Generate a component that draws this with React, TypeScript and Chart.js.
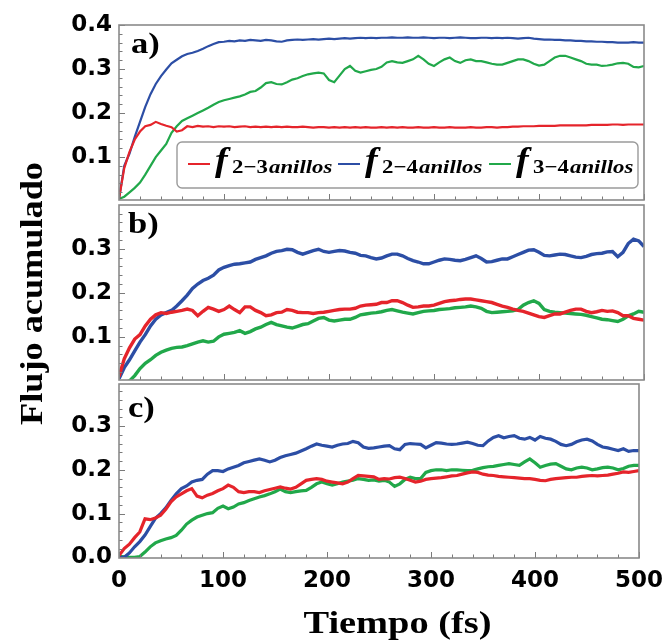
import React, { useEffect, useRef } from "react";
import { Chart, registerables } from "chart.js";

Chart.register(...registerables);

// ---------- data ----------
const timeFs = [
  0, 5, 10, 15, 20, 25, 30, 35, 40, 45, 50, 55, 60, 65, 70, 75, 80, 85, 90, 95, 100,
  105, 110, 115, 120, 125, 130, 135, 140, 145, 150,
  155, 160, 165, 170, 175, 180, 185, 190, 195, 200,
  205, 210, 215, 220, 225, 230, 235, 240, 245, 250,
  255, 260, 265, 270, 275, 280, 285, 290, 295, 300,
  305, 310, 315, 320, 325, 330, 335, 340, 345, 350,
  355, 360, 365, 370, 375, 380, 385, 390, 395, 400,
  405, 410, 415, 420, 425, 430, 435, 440, 445, 450,
  455, 460, 465, 470, 475, 480, 485, 490, 495, 500,
];

// panel a
const a23 = [
  0.005, 0.075, 0.112, 0.14, 0.158, 0.17, 0.173, 0.18, 0.175, 0.171, 0.168, 0.158, 0.161, 0.17, 0.168, 0.171, 0.169, 0.17, 0.168, 0.17, 0.169,
  0.17, 0.168, 0.169, 0.17, 0.168, 0.169, 0.168, 0.169, 0.168, 0.169,
  0.168, 0.169, 0.168, 0.168, 0.169, 0.168, 0.167, 0.168, 0.168, 0.167,
  0.168, 0.167, 0.168, 0.167, 0.168, 0.167, 0.168, 0.167, 0.167, 0.168,
  0.167, 0.168, 0.167, 0.168, 0.167, 0.167, 0.168, 0.167, 0.167, 0.168,
  0.167, 0.167, 0.168, 0.167, 0.167, 0.167, 0.168, 0.167, 0.167, 0.168,
  0.168, 0.167, 0.168, 0.168, 0.169, 0.169, 0.17, 0.17, 0.17, 0.171,
  0.171, 0.171, 0.171, 0.172, 0.172, 0.172, 0.172, 0.172, 0.172, 0.173,
  0.173, 0.173, 0.173, 0.174, 0.174, 0.173, 0.174, 0.174, 0.174, 0.174,
];
const a24 = [
  0.005, 0.08, 0.108, 0.146, 0.18, 0.214, 0.243, 0.266, 0.284, 0.299, 0.313, 0.321, 0.329, 0.334, 0.337, 0.341, 0.346, 0.352, 0.357, 0.361, 0.362,
  0.364, 0.363, 0.365, 0.364, 0.366, 0.365, 0.364, 0.366, 0.365, 0.363,
  0.362, 0.365, 0.366, 0.367, 0.366, 0.367, 0.368, 0.367, 0.368, 0.369,
  0.368, 0.369, 0.37, 0.369, 0.37, 0.371, 0.37, 0.371, 0.37, 0.371,
  0.371, 0.372, 0.371, 0.371, 0.372, 0.371, 0.371, 0.372, 0.371, 0.37,
  0.371, 0.371, 0.37, 0.371, 0.372, 0.371, 0.37, 0.37, 0.371, 0.371,
  0.37, 0.371, 0.37, 0.371, 0.37, 0.369, 0.37, 0.371, 0.369, 0.368,
  0.367, 0.367, 0.366, 0.366, 0.365, 0.365, 0.364, 0.364, 0.363, 0.363,
  0.362, 0.362, 0.361, 0.361, 0.36, 0.36, 0.36, 0.361, 0.36, 0.36,
];
const a34 = [
  0.005, 0.01, 0.02, 0.03, 0.042, 0.06, 0.08, 0.1, 0.115, 0.13, 0.155, 0.17, 0.182, 0.188, 0.194, 0.2, 0.206, 0.212, 0.219, 0.225, 0.229,
  0.232, 0.235, 0.238, 0.242, 0.248, 0.25, 0.258, 0.268, 0.27, 0.266,
  0.265, 0.27, 0.276, 0.279, 0.284, 0.288, 0.29, 0.292, 0.29, 0.275,
  0.27, 0.285, 0.3, 0.307, 0.296, 0.292, 0.295, 0.298, 0.3, 0.305,
  0.315, 0.318, 0.315, 0.314, 0.318, 0.322, 0.33, 0.322, 0.312, 0.307,
  0.315, 0.322, 0.326, 0.318, 0.314, 0.32, 0.322, 0.318, 0.318, 0.315,
  0.312, 0.31, 0.31, 0.314, 0.318, 0.322, 0.322, 0.318, 0.312, 0.308,
  0.31, 0.318, 0.326, 0.33, 0.33, 0.326, 0.322, 0.318, 0.312, 0.31,
  0.31, 0.307, 0.308, 0.31, 0.313, 0.314, 0.312, 0.305, 0.304, 0.307,
];

// panel b
const b23 = [
  0.01, 0.05, 0.075, 0.095, 0.105, 0.125, 0.14, 0.15, 0.155, 0.153, 0.156, 0.158, 0.16, 0.163, 0.16, 0.148, 0.158, 0.167, 0.163, 0.158, 0.162,
  0.17, 0.162, 0.155, 0.168, 0.168, 0.16, 0.155, 0.148, 0.15, 0.155,
  0.156, 0.162, 0.16, 0.156, 0.155, 0.155, 0.153, 0.155, 0.156, 0.158,
  0.16, 0.162, 0.163, 0.163, 0.165, 0.17, 0.172, 0.173, 0.174, 0.178,
  0.178, 0.182, 0.182, 0.178, 0.172, 0.167, 0.168, 0.17, 0.17, 0.172,
  0.176, 0.18, 0.182, 0.183, 0.185, 0.186, 0.186, 0.184, 0.182, 0.18,
  0.178, 0.174, 0.17, 0.167, 0.163, 0.16, 0.158, 0.154, 0.15, 0.146,
  0.144, 0.148, 0.152, 0.152, 0.156, 0.16, 0.163, 0.163, 0.158, 0.155,
  0.157, 0.16, 0.158, 0.159, 0.155, 0.148, 0.148, 0.142, 0.14, 0.138,
];
const b24 = [
  0.005, 0.03, 0.048, 0.068, 0.088, 0.105, 0.125, 0.14, 0.15, 0.155, 0.16, 0.17, 0.182, 0.195, 0.21, 0.22, 0.228, 0.233, 0.24, 0.252, 0.258,
  0.262, 0.265, 0.266, 0.268, 0.27, 0.276, 0.28, 0.284, 0.29, 0.294,
  0.296, 0.299, 0.298, 0.292, 0.288, 0.292, 0.296, 0.299, 0.294, 0.292,
  0.294, 0.296, 0.295, 0.292, 0.29, 0.285, 0.284, 0.28, 0.277, 0.279,
  0.284, 0.288, 0.288, 0.284, 0.278, 0.273, 0.27, 0.266, 0.266, 0.27,
  0.274, 0.277, 0.276, 0.274, 0.273, 0.276, 0.28, 0.284, 0.278, 0.27,
  0.271, 0.274, 0.277, 0.277, 0.282, 0.287, 0.292, 0.297, 0.298, 0.292,
  0.285, 0.284, 0.286, 0.288, 0.287, 0.284, 0.281, 0.28, 0.283, 0.287,
  0.289, 0.29, 0.293, 0.294, 0.282, 0.292, 0.312, 0.322, 0.318, 0.305,
];
const b34 = [
  -0.01, -0.005, 0.0, 0.012, 0.028, 0.04, 0.048, 0.058, 0.065, 0.07, 0.074, 0.076, 0.077, 0.08, 0.084, 0.088, 0.091, 0.088, 0.09, 0.1, 0.106,
  0.108, 0.11, 0.114, 0.108, 0.112, 0.118, 0.122, 0.128, 0.133, 0.128,
  0.125, 0.122, 0.12, 0.124, 0.128, 0.13, 0.136, 0.142, 0.144, 0.138,
  0.136, 0.138, 0.14, 0.14, 0.144, 0.15, 0.152, 0.154, 0.155, 0.157,
  0.16, 0.162, 0.159, 0.156, 0.154, 0.152, 0.155, 0.158, 0.159, 0.16,
  0.162, 0.163, 0.164, 0.166, 0.167, 0.168, 0.17, 0.168, 0.165, 0.158,
  0.155, 0.156, 0.157, 0.158, 0.159, 0.162, 0.172, 0.178, 0.182, 0.176,
  0.162, 0.158, 0.156, 0.155, 0.154, 0.153, 0.152, 0.151, 0.149, 0.146,
  0.143, 0.14, 0.139, 0.137, 0.135, 0.14, 0.148, 0.152, 0.158, 0.156,
];

// panel c
const c23 = [
  0.004, 0.02, 0.03, 0.045, 0.058, 0.088, 0.086, 0.09, 0.096, 0.11, 0.127, 0.138, 0.145, 0.152, 0.157, 0.14, 0.136, 0.142, 0.146, 0.152, 0.157,
  0.165, 0.16, 0.15, 0.148, 0.15, 0.15, 0.148, 0.152, 0.155, 0.158,
  0.161, 0.158, 0.156, 0.16, 0.168, 0.176, 0.178, 0.18, 0.178, 0.174,
  0.172, 0.17, 0.168, 0.172, 0.18, 0.187, 0.186, 0.185, 0.184, 0.178,
  0.18, 0.179, 0.182, 0.183, 0.18, 0.176, 0.172, 0.174, 0.178, 0.18,
  0.181, 0.182, 0.184, 0.186, 0.187, 0.19, 0.193, 0.195, 0.194, 0.19,
  0.188, 0.187, 0.185, 0.184, 0.183, 0.182, 0.181, 0.18, 0.18, 0.178,
  0.176, 0.175, 0.178, 0.18, 0.181, 0.182, 0.183, 0.183, 0.185, 0.186,
  0.187, 0.186, 0.187, 0.188, 0.19, 0.192, 0.195, 0.194, 0.196, 0.198,
];
const c24 = [
  0.0, 0.0, 0.01, 0.024, 0.036, 0.051, 0.07, 0.089, 0.1, 0.113, 0.13, 0.145, 0.157, 0.163, 0.172, 0.176, 0.178, 0.19, 0.198, 0.198, 0.196,
  0.202, 0.206, 0.21, 0.216, 0.219, 0.222, 0.225, 0.222, 0.218, 0.222,
  0.228, 0.232, 0.235, 0.238, 0.243, 0.248, 0.254, 0.259, 0.256, 0.254,
  0.252, 0.256, 0.259, 0.26, 0.265, 0.262, 0.252, 0.249, 0.25, 0.252,
  0.254, 0.255, 0.248, 0.246, 0.258, 0.26, 0.259, 0.258, 0.25, 0.256,
  0.262, 0.261, 0.259, 0.258, 0.259, 0.261, 0.263, 0.26, 0.256, 0.255,
  0.266, 0.274, 0.278, 0.273, 0.276, 0.278, 0.272, 0.27, 0.274, 0.268,
  0.276, 0.272, 0.27, 0.265, 0.258, 0.255, 0.258, 0.264, 0.268, 0.27,
  0.266, 0.258, 0.252, 0.25, 0.247, 0.244, 0.248, 0.242, 0.244, 0.244,
];
const c34 = [
  0.002, 0.001, 0.0, 0.0, 0.002, 0.012, 0.024, 0.033, 0.038, 0.042, 0.045, 0.05, 0.062, 0.076, 0.085, 0.092, 0.096, 0.1, 0.102, 0.112, 0.117,
  0.111, 0.115, 0.122, 0.125, 0.13, 0.134, 0.138, 0.141, 0.145, 0.15,
  0.156, 0.15, 0.148, 0.15, 0.152, 0.153, 0.16, 0.168, 0.172, 0.168,
  0.165, 0.168, 0.172, 0.174, 0.176, 0.18, 0.178, 0.176, 0.177, 0.174,
  0.176, 0.172, 0.162, 0.168, 0.178, 0.183, 0.18, 0.18, 0.194, 0.198,
  0.2, 0.2, 0.198, 0.2, 0.2, 0.199, 0.198, 0.199, 0.202, 0.205,
  0.207, 0.208, 0.21, 0.212, 0.214, 0.212, 0.21, 0.218, 0.225, 0.216,
  0.206, 0.21, 0.213, 0.214, 0.208, 0.202, 0.2, 0.204, 0.206, 0.204,
  0.2, 0.202, 0.205, 0.206, 0.204, 0.2, 0.203, 0.208, 0.21, 0.21,
];

const seriesPairs = ["2\u22123", "2\u22124", "3\u22124"];
const seriesSuffix = "anillos";
const seriesColors = ["#e5242b", "#2c4ea5", "#21a84a"];

const xTicks = [0, 100, 200, 300, 400, 500];
const yTicksA = [0.1, 0.2, 0.3, 0.4];
const yTicksB = [0.1, 0.2, 0.3];
const yTicksC = [0.0, 0.1, 0.2, 0.3];
const panelLetters = ["a)", "b)", "c)"];
const xTitle = "Tiempo (fs)";
const yTitle = "Flujo acumulado";

// ---------- layout ----------
const W = 672;
const H = 642;
const AREA_LEFT = 119;
const AREA_RIGHT = 644;

type PanelCfg = {
  series: number[][];
  yMin: number;
  yMax: number;
  yTicks: number[];
  top: number;
  bottom: number;
  letter: string;
  letterX: number;
  letterY: number;
  showX: boolean;
  showLegend: boolean;
  showYTitle: boolean;
  lineWidth: number;
};

const panels: PanelCfg[] = [
  { series: [a23, a24, a34], yMin: 0.0025, yMax: 0.4, yTicks: yTicksA, top: 25, bottom: 200, letter: panelLetters[0], letterX: 131, letterY: 53, showX: false, showLegend: true, showYTitle: true, lineWidth: 2.2 },
  { series: [b23, b24, b34], yMin: 0.002, yMax: 0.3995, yTicks: yTicksB, top: 205, bottom: 380, letter: panelLetters[1], letterX: 128, letterY: 233, showX: false, showLegend: false, showYTitle: false, lineWidth: 3.4 },
  { series: [c23, c24, c34], yMin: -0.0015, yMax: 0.396, yTicks: yTicksC, top: 384, bottom: 558, letter: panelLetters[2], letterX: 128, letterY: 417, showX: true, showLegend: false, showYTitle: false, lineWidth: 3.2 },
];

const decoPlugin = {
  id: "panelDeco",
  afterDatasetsDraw(chart: any, _args: any, opts: any) {
    const cfg: PanelCfg = opts.cfg;
    const { ctx, chartArea } = chart;
    const { left, right, top, bottom } = chartArea;
    const xs = chart.scales.x;
    const ys = chart.scales.y;
    ctx.save();
    // inward ticks
    ctx.strokeStyle = "#7a7a7a";
    ctx.lineWidth = 1;
    ctx.beginPath();
    for (let v = 0; v <= 500; v += 20) {
      const px = Math.round(xs.getPixelForValue(v)) + 0.5;
      const len = v % 100 === 0 ? 6 : 3.5;
      ctx.moveTo(px, bottom);
      ctx.lineTo(px, bottom - len);
    }
    const kStart = Math.ceil(ys.min / 0.02 - 1e-6);
    for (let k = kStart; k * 0.02 <= ys.max + 1e-9; k++) {
      const py = Math.round(ys.getPixelForValue(k * 0.02)) + 0.5;
      const len = k % 5 === 0 ? 6 : 3.5;
      ctx.moveTo(left, py);
      ctx.lineTo(left + len, py);
    }
    ctx.stroke();
    // frame
    ctx.strokeStyle = "#8a8a8a";
    ctx.lineWidth = 1.6;
    ctx.strokeRect(left, top, right - left, bottom - top);

    // panel letter
    ctx.fillStyle = "#000";
    ctx.textAlign = "left";
    ctx.textBaseline = "alphabetic";
    ctx.save();
    ctx.translate(cfg.letterX, cfg.letterY);
    ctx.scale(1.15, 1);
    ctx.font = 'bold 30px "Liberation Serif"';
    ctx.fillText(cfg.letter, 0, 0);
    ctx.restore();

    if (cfg.showLegend) {
      const bx = 177, by = 142, bw = 461, bh = 46, r = 5;
      ctx.beginPath();
      ctx.moveTo(bx + r, by);
      ctx.lineTo(bx + bw - r, by);
      ctx.arcTo(bx + bw, by, bx + bw, by + r, r);
      ctx.lineTo(bx + bw, by + bh - r);
      ctx.arcTo(bx + bw, by + bh, bx + bw - r, by + bh, r);
      ctx.lineTo(bx + r, by + bh);
      ctx.arcTo(bx, by + bh, bx, by + bh - r, r);
      ctx.lineTo(bx, by + r);
      ctx.arcTo(bx, by, bx + r, by, r);
      ctx.closePath();
      ctx.fillStyle = "#fff";
      ctx.fill();
      ctx.strokeStyle = "#9a9a9a";
      ctx.lineWidth = 1.4;
      ctx.stroke();
      const itemX = [188, 338, 489];
      chart.data.datasets.forEach((ds: any, i: number) => {
        const x0 = itemX[i];
        ctx.strokeStyle = ds.borderColor;
        ctx.lineWidth = 2;
        ctx.beginPath();
        ctx.moveTo(x0, 164);
        ctx.lineTo(x0 + 22, 164);
        ctx.stroke();
        ctx.fillStyle = "#000";
        ctx.save();
        ctx.translate(x0 + 27, 171);
        ctx.scale(1.15, 1);
        ctx.font = 'italic bold 33px "Liberation Serif"';
        ctx.fillText("f", 0, 0);
        ctx.restore();
        ctx.save();
        ctx.translate(x0 + 44, 173);
        ctx.scale(1.2, 1);
        ctx.font = 'bold 19px "Liberation Serif"';
        ctx.fillText(seriesPairs[i], 0, 0);
        const w = ctx.measureText(seriesPairs[i]).width;
        ctx.font = 'italic bold 19px "Liberation Serif"';
        ctx.fillText(seriesSuffix, w + 1, 0);
        ctx.restore();
      });
    }

    if (cfg.showYTitle) {
      ctx.save();
      ctx.fillStyle = "#000";
      ctx.translate(42, 293.5);
      ctx.rotate(-Math.PI / 2);
      ctx.scale(1.17, 1);
      ctx.textAlign = "center";
      ctx.textBaseline = "alphabetic";
      ctx.font = 'bold 31px "Liberation Serif"';
      ctx.fillText(yTitle, 0, 0);
      ctx.restore();
    }

    if (cfg.showX) {
      ctx.save();
      ctx.fillStyle = "#000";
      ctx.translate(397.5, 633);
      ctx.scale(1.2, 1);
      ctx.textAlign = "center";
      ctx.textBaseline = "alphabetic";
      ctx.font = 'bold 32px "Liberation Serif"';
      ctx.fillText(xTitle, 0, 0);
      ctx.restore();
    }
    ctx.restore();
  },
};

const tickFont = { family: '"DejaVu Sans"', weight: "bold" as const, size: 23 };

function Panel({ cfg }: { cfg: PanelCfg }) {
  const ref = useRef<HTMLCanvasElement>(null);
  useEffect(() => {
    if (!ref.current) return;
    const chart = new Chart(ref.current, {
      type: "line",
      data: {
        datasets: cfg.series.map((vals, i) => ({
          label: "f" + seriesPairs[i] + seriesSuffix,
          data: timeFs.map((t, k) => ({ x: t, y: vals[k] })),
          borderColor: seriesColors[i],
          backgroundColor: seriesColors[i],
          borderWidth: cfg.lineWidth,
          pointRadius: 0,
          tension: 0,
          fill: false,
        })),
      },
      options: {
        responsive: false,
        animation: false,
        devicePixelRatio: 1,
        layout: {
          padding: { left: 0, right: W - AREA_RIGHT, top: cfg.top, bottom: cfg.showX ? 0 : H - cfg.bottom },
        },
        plugins: {
          legend: { display: false },
          tooltip: { enabled: false },
          title: { display: false },
          panelDeco: { cfg },
        } as any,
        scales: {
          x: {
            type: "linear",
            min: 0,
            max: 500,
            display: cfg.showX,
            grid: { display: false, drawTicks: false },
            border: { display: false },
            ticks: { padding: 9, font: tickFont, color: "#000", maxRotation: 0, autoSkip: false },
            afterBuildTicks: (s: any) => {
              s.ticks = xTicks.map((v) => ({ value: v }));
            },
            afterFit: (s: any) => {
              s.height = cfg.showX ? H - cfg.bottom : 0;
            },
          },
          y: {
            type: "linear",
            min: cfg.yMin,
            max: cfg.yMax,
            grid: { display: false, drawTicks: false },
            border: { display: false },
            ticks: {
              padding: 7,
              font: tickFont,
              color: "#000",
              callback: (v: any) => Number(v).toFixed(1),
            },
            afterBuildTicks: (s: any) => {
              s.ticks = cfg.yTicks.map((v) => ({ value: v }));
            },
            afterFit: (s: any) => {
              s.width = AREA_LEFT;
            },
          },
        },
      } as any,
      plugins: [decoPlugin as any],
    });
    return () => chart.destroy();
  }, [cfg]);
  return (
    <canvas
      ref={ref}
      width={W}
      height={H}
      style={{ position: "absolute", left: 0, top: 0, width: W, height: H }}
    />
  );
}

export default function App() {
  return (
    <div style={{ position: "absolute", left: 0, top: 0, width: W, height: H, background: "#fff", overflow: "hidden" }}>
      {panels.map((p, i) => (
        <Panel key={i} cfg={p} />
      ))}
    </div>
  );
}
